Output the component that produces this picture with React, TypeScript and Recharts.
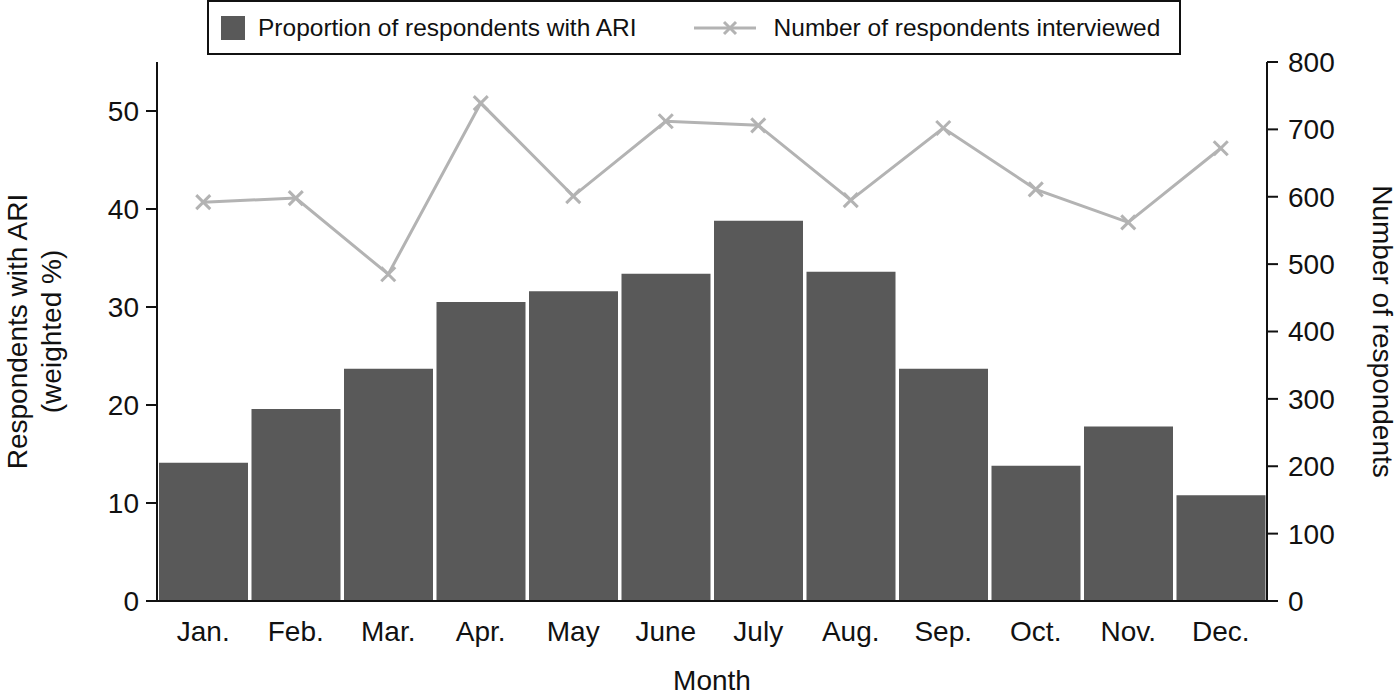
import { Bar, ComposedChart, Line, XAxis, YAxis } from "recharts";

const months = ["Jan.", "Feb.", "Mar.", "Apr.", "May", "June", "July", "Aug.", "Sep.", "Oct.", "Nov.", "Dec."];
const ariPercent = [14.1, 19.6, 23.7, 30.5, 31.6, 33.4, 38.8, 33.6, 23.7, 13.8, 17.8, 10.8];
const respondents = [592, 598, 485, 739, 601, 712, 706, 595, 702, 611, 562, 672];
const leftTicks = [0, 10, 20, 30, 40, 50];
const rightTicks = [0, 100, 200, 300, 400, 500, 600, 700, 800];

const data = months.map((m, i) => ({
  month: m,
  ari: ariPercent[i],
  n: respondents[i],
}));

const FONT = '"Liberation Sans", Arial, sans-serif';
const BAR = "#595959";
const LINE = "#b3b3b3";
const INK = "#111";

function Cross(props: any) {
  const { cx, cy } = props;
  if (cx == null || cy == null) return null;
  const s = 7;
  return (
    <g stroke={LINE} strokeWidth={3}>
      <line x1={cx - s} y1={cy - s} x2={cx + s} y2={cy + s} />
      <line x1={cx - s} y1={cy + s} x2={cx + s} y2={cy - s} />
    </g>
  );
}

// legend box sits above the plot, drawn outside the chart so it takes no room
function LegendBox() {
  return (
    <div
      style={{
        position: "absolute",
        left: 207,
        top: 0,
        width: 974,
        height: 55,
        border: `2px solid ${INK}`,
        boxSizing: "border-box",
        display: "flex",
        alignItems: "center",
        fontFamily: FONT,
        fontSize: 24.5,
        color: INK,
        whiteSpace: "nowrap",
        background: "#fff",
      }}
    >
      <span style={{ width: 24, height: 24, background: BAR, marginLeft: 12, marginRight: 13 }} />
      <span>Proportion of respondents with ARI</span>
      <svg width={62} height={20} style={{ marginLeft: 57, marginRight: 18 }}>
        <line x1={0} y1={10} x2={62} y2={10} stroke={LINE} strokeWidth={3} />
        <line x1={30} y1={4} x2={42} y2={16} stroke={LINE} strokeWidth={3} />
        <line x1={30} y1={16} x2={42} y2={4} stroke={LINE} strokeWidth={3} />
      </svg>
      <span>Number of respondents interviewed</span>
    </div>
  );
}

export default function App() {
  const tick = { fill: INK, fontSize: 28, fontFamily: FONT };
  return (
    <div style={{ position: "absolute", left: 0, top: 0, width: 1400, height: 696, background: "#fff" }}>
      <ComposedChart
        width={1400}
        height={696}
        data={data}
        margin={{ top: 62, right: 0, bottom: 0, left: 0 }}
        barCategoryGap={2}
      >
        <XAxis
          dataKey="month"
          tickLine={false}
          axisLine={{ stroke: INK, strokeWidth: 2 }}
          tick={tick}
          tickMargin={14}
          height={95}
          label={{ value: "Month", position: "insideBottom", offset: 6, fill: INK, fontSize: 28, fontFamily: FONT }}
        />
        <YAxis
          yAxisId="left"
          domain={[0, 55]}
          ticks={leftTicks}
          width={157}
          axisLine={{ stroke: INK, strokeWidth: 2 }}
          tickLine={{ stroke: INK, strokeWidth: 2 }}
          tickSize={11}
          tickMargin={7}
          tick={tick}
          label={(p: any) => {
            const vb = p.viewBox;
            const cy = vb.y + vb.height / 2;
            return (
              <g fill={INK} fontSize={28} fontFamily={FONT}>
                <text x={27} y={cy} transform={`rotate(-90 27 ${cy})`} textAnchor="middle">
                  Respondents with ARI
                </text>
                <text x={61} y={cy} transform={`rotate(-90 61 ${cy})`} textAnchor="middle">
                  (weighted %)
                </text>
              </g>
            );
          }}
        />
        <YAxis
          yAxisId="right"
          orientation="right"
          domain={[0, 800]}
          ticks={rightTicks}
          width={133}
          axisLine={{ stroke: INK, strokeWidth: 2 }}
          tickLine={{ stroke: INK, strokeWidth: 2 }}
          tickSize={11}
          tickMargin={10}
          tick={tick}
          label={(p: any) => {
            const vb = p.viewBox;
            const cy = vb.y + vb.height / 2;
            return (
              <text
                x={1373}
                y={cy}
                transform={`rotate(90 1373 ${cy})`}
                textAnchor="middle"
                fill={INK}
                fontSize={28}
                fontFamily={FONT}
              >
                Number of respondents
              </text>
            );
          }}
        />
        <Bar yAxisId="left" dataKey="ari" fill={BAR} isAnimationActive={false} />
        <Line
          yAxisId="right"
          dataKey="n"
          stroke={LINE}
          strokeWidth={3}
          dot={<Cross />}
          activeDot={false}
          isAnimationActive={false}
        />
      </ComposedChart>
      <LegendBox />
    </div>
  );
}
